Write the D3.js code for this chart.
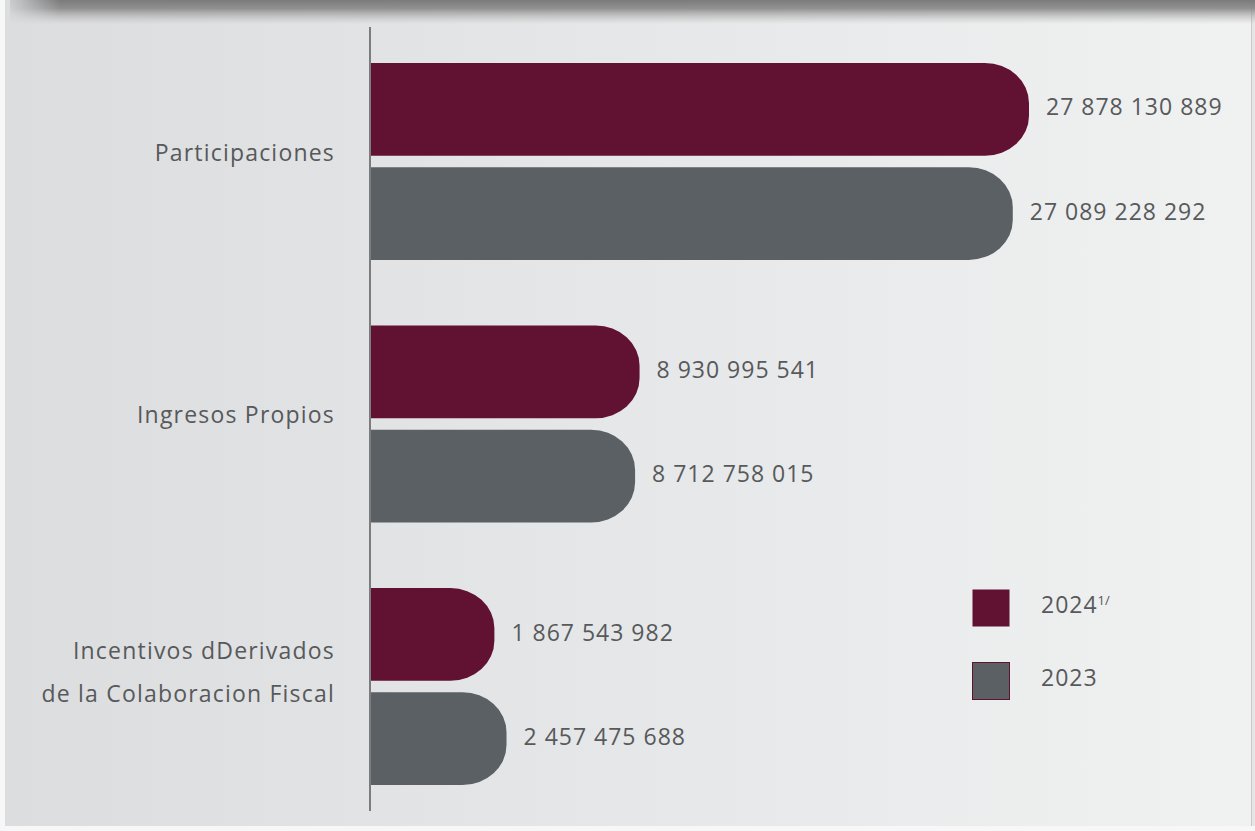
<!DOCTYPE html>
<html>
<head>
<meta charset="utf-8">
<script src="https://cdn.jsdelivr.net/npm/d3@7"></script>
<style>
  body { margin: 0; background: #f6f6f6; }
  svg { display: block; }
  text { font-family: "Open Sans", "Noto Sans", sans-serif; fill: #57595b; }
</style>
</head>
<body>
<div id="chart"></div>
<script>
// categories, top to bottom
const categories = ['Participaciones', 'Ingresos Propios', 'Incentivos dDerivados\nde la Colaboracion Fiscal'];
const years = ['2024', '2023'];
const values2024 = [27878130889, 8930995541, 1867543982];
const values2023 = [27089228292, 8712758015, 2457475688];
const valueLabels2024 = ['27 878 130 889', '8 930 995 541', '1 867 543 982'];
const valueLabels2023 = ['27 089 228 292', '8 712 758 015', '2 457 475 688'];

const colors = { '2024': '#611232', '2023': '#5b6064' };

const width = 1255;
const height = 831;
const axisX = 371;

const svg = d3.select('#chart').append('svg')
    .attr('width', width)
    .attr('height', height);

// background panel with a soft left-to-right gradient
const defs = svg.append('defs');
const bg = defs.append('linearGradient').attr('id', 'bg').attr('x1', 0).attr('x2', 1).attr('y1', 0).attr('y2', 0);
bg.append('stop').attr('offset', 0).attr('stop-color', '#dcdddf');
bg.append('stop').attr('offset', 1).attr('stop-color', '#f0f1f1');
const shade = defs.append('linearGradient').attr('id', 'shade').attr('x1', 0).attr('x2', 0).attr('y1', 0).attr('y2', 1);
shade.append('stop').attr('offset', 0).attr('stop-color', '#7a7a7a').attr('stop-opacity', 1);
shade.append('stop').attr('offset', 0.35).attr('stop-color', '#868686').attr('stop-opacity', 0.9);
shade.append('stop').attr('offset', 1).attr('stop-color', '#b0b0b0').attr('stop-opacity', 0);
const fadeL = defs.append('linearGradient').attr('id', 'fadeL').attr('x1', 0).attr('x2', 1).attr('y1', 0).attr('y2', 0);
fadeL.append('stop').attr('offset', 0).attr('stop-color', 'white').attr('stop-opacity', 0);
fadeL.append('stop').attr('offset', 1).attr('stop-color', 'white').attr('stop-opacity', 1);
const mask = defs.append('mask').attr('id', 'shadeMask');
mask.append('rect').attr('x', 0).attr('y', 0).attr('width', 60).attr('height', 30).attr('fill', 'url(#fadeL)');
mask.append('rect').attr('x', 60).attr('y', 0).attr('width', width).attr('height', 30).attr('fill', 'white');

svg.append('rect').attr('width', width).attr('height', height).attr('fill', '#f7f7f7');
svg.append('rect').attr('x', 5).attr('y', 0).attr('width', 1246).attr('height', 826).attr('fill', 'url(#bg)');
svg.append('rect').attr('x', 1251).attr('y', 0).attr('width', 1).attr('height', 826).attr('fill', '#c9c9c9');
svg.append('rect').attr('x', 1252).attr('y', 0).attr('width', 3).attr('height', 826).attr('fill', '#e6e6e6');
svg.append('rect').attr('x', 10).attr('y', 0).attr('width', width - 10).attr('height', 24)
    .attr('fill', 'url(#shade)').attr('mask', 'url(#shadeMask)');

// scales
const y = d3.scaleBand().domain(categories).range([63, 785]).paddingInner(0.25).paddingOuter(0);
const ySub = d3.scaleBand().domain(years).range([0, y.bandwidth()]).paddingInner(0.11);
const x = d3.scaleLinear().domain([0, d3.max(values2024.concat(values2023))]).range([456, 1029]);

const rows = [];
categories.forEach((c, i) => {
    rows.push({ cat: c, year: '2024', value: values2024[i], label: valueLabels2024[i] });
    rows.push({ cat: c, year: '2023', value: values2023[i], label: valueLabels2023[i] });
});

function barPath(x0, x1, y0, h) {
    const rx = Math.min(44, x1 - x0);
    const ry = 40;
    const y1 = y0 + h;
    return 'M' + x0 + ',' + y0 +
        'H' + (x1 - rx) +
        'A' + rx + ',' + ry + ' 0 0 1 ' + x1 + ',' + (y0 + ry) +
        'V' + (y1 - ry) +
        'A' + rx + ',' + ry + ' 0 0 1 ' + (x1 - rx) + ',' + y1 +
        'H' + x0 + 'Z';
}

const bars = svg.append('g');
bars.selectAll('path')
    .data(rows)
    .enter()
    .append('path')
        .attr('d', d => barPath(axisX, x(d.value), y(d.cat) + ySub(d.year), ySub.bandwidth()))
        .attr('fill', d => colors[d.year]);

bars.selectAll('text')
    .data(rows)
    .enter()
    .append('text')
        .attr('x', d => x(d.value) + 17)
        .attr('y', d => y(d.cat) + ySub(d.year) + ySub.bandwidth() / 2 - 2)
        .attr('dy', '0.35em')
        .style('font-size', '23px')
        .style('letter-spacing', '1px')
        .text(d => d.label);

// category axis line
svg.append('line')
    .attr('x1', axisX - 1).attr('x2', axisX - 1)
    .attr('y1', 27).attr('y2', 811)
    .attr('stroke', '#7b7c7e')
    .attr('stroke-width', 2);

// category labels
const catLabels = svg.append('g');
categories.forEach((c, i) => {
    const lines = c.split('\n');
    const cy = y(c) + y.bandwidth() / 2 - (lines.length > 1 ? 14 : 9);
    const t = catLabels.append('text')
        .attr('text-anchor', 'end')
        .style('font-size', '23px')
        .style('letter-spacing', '1.2px');
    lines.forEach((ln, j) => {
        t.append('tspan')
            .attr('x', 335)
            .attr('y', cy + (j - (lines.length - 1) / 2) * 43)
            .attr('dy', '0.35em')
            .text(ln);
    });
});

// legend
const legend = svg.append('g').attr('transform', 'translate(972, 589)');
years.forEach((yr, i) => {
    const g = legend.append('g').attr('transform', 'translate(0,' + (i * 73) + ')');
    g.append('rect')
        .attr('x', 0.5).attr('y', 0.5)
        .attr('width', 37).attr('height', 37)
        .attr('fill', colors[yr])
        .attr('stroke', i === 1 ? '#611232' : 'none')
        .attr('stroke-width', 1);
    const t = g.append('text')
        .attr('x', 69)
        .attr('y', 16)
        .attr('dy', '0.35em')
        .style('font-size', '23px')
        .style('letter-spacing', '1px')
        .text(yr);
    if (i === 0) {
        t.append('tspan')
            .attr('dy', '-0.6em')
            .style('font-size', '13px')
            .style('letter-spacing', '0px')
            .text('1/');
    }
});
</script>
</body>
</html>
